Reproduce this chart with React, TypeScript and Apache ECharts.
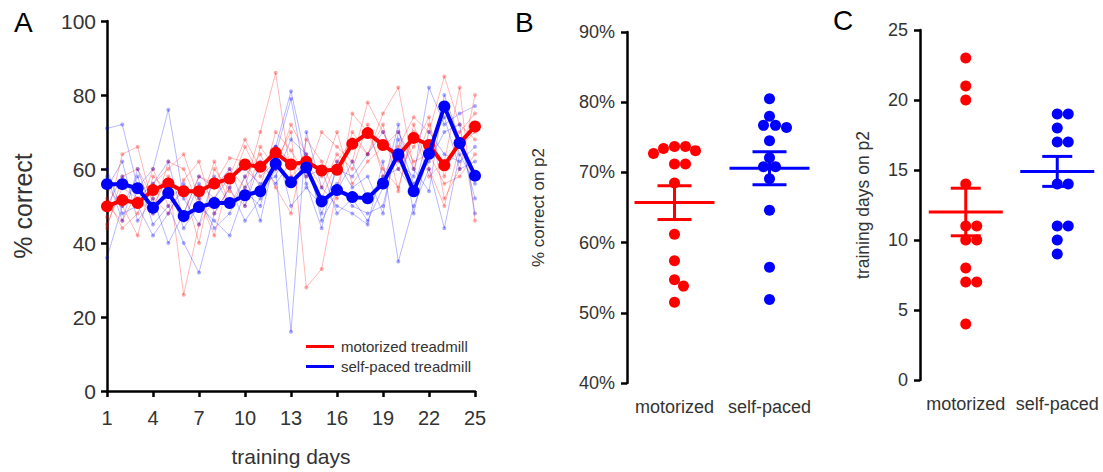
import React, { useEffect, useRef } from "react";
import * as echarts from "echarts";

const days = Array.from({ length: 25 }, (_, i) => String(i + 1));

const motorizedMean = [49.9, 51.6, 50.8, 54.3, 56.1, 54.0, 54.0, 56.1, 57.4, 61.2, 60.6, 64.4, 61.2, 62.0, 59.6, 59.8, 66.8, 69.7, 66.5, 63.6, 68.4, 66.5, 61.0, 67.0, 71.5];
const selfPacedMean = [55.9, 55.9, 54.8, 49.5, 53.5, 47.3, 49.7, 50.8, 50.8, 52.9, 54.0, 61.4, 56.4, 60.4, 51.3, 54.3, 52.4, 52.1, 56.1, 64.0, 54.0, 64.1, 76.9, 67.0, 58.2];

const motorizedAnimals = [
  [47, 64, 66, 50, 58, 26, 45, 52, 60, 55, 70, 86, 58, 62, 55, 64, 60, 72, 58, 66, 74, 70, 85, 72, 68],
  [52, 44, 48, 60, 50, 57, 62, 48, 55, 66, 58, 62, 70, 28, 33, 55, 70, 64, 75, 82, 60, 72, 58, 70, 75],
  [45, 55, 52, 48, 62, 60, 50, 62, 50, 58, 64, 55, 48, 68, 62, 52, 75, 70, 60, 55, 70, 58, 62, 82, 46],
  [55, 50, 42, 58, 54, 48, 58, 56, 63, 62, 55, 70, 65, 58, 70, 66, 62, 78, 70, 60, 66, 74, 52, 60, 80],
  [50, 46, 54, 56, 60, 64, 52, 42, 58, 68, 60, 66, 62, 60, 52, 62, 68, 64, 72, 54, 72, 60, 50, 66, 70],
  [44, 58, 60, 52, 48, 55, 40, 60, 54, 50, 66, 60, 72, 64, 58, 70, 56, 62, 66, 70, 62, 64, 56, 58, 64],
];
const selfPacedAnimals = [
  [71, 72, 55, 60, 76, 52, 45, 58, 50, 55, 60, 66, 81, 62, 48, 60, 58, 64, 70, 62, 58, 82, 72, 75, 77],
  [36, 50, 58, 45, 50, 40, 32, 48, 55, 46, 52, 60, 16, 70, 55, 50, 48, 45, 62, 35, 50, 60, 44, 64, 56],
  [60, 48, 50, 42, 48, 56, 52, 44, 48, 58, 46, 64, 79, 56, 44, 62, 55, 58, 48, 70, 60, 54, 80, 68, 52],
  [55, 62, 46, 52, 40, 48, 58, 55, 60, 50, 62, 56, 62, 58, 60, 48, 52, 46, 55, 72, 48, 66, 74, 60, 62],
  [58, 46, 60, 48, 56, 44, 50, 46, 42, 54, 50, 66, 50, 55, 50, 56, 50, 48, 50, 68, 56, 62, 70, 72, 48],
  [50, 58, 52, 56, 62, 46, 56, 52, 58, 60, 56, 58, 68, 64, 46, 54, 62, 52, 58, 60, 54, 70, 64, 62, 66],
];

const groups = ["motorized", "self-paced"];
const p2CorrectMotorized = [73.1, 73.7, 72.7, 73.7, 73.4, 71.2, 71.2, 68.5, 61.2, 57.4, 54.7, 53.8, 51.5];
const p2CorrectSelfPaced = [80.5, 78.0, 76.7, 76.7, 76.4, 74.5, 72.1, 70.8, 70.8, 69.1, 64.6, 56.5, 51.9];
const p2CorrectMean = [65.7, 70.6];
const p2CorrectSem = [2.4, 2.35];

const p2DaysMotorized = [23, 21, 20, 14, 11, 11, 10, 10, 8, 7, 7, 4];
const p2DaysSelfPaced = [19, 19, 18, 17, 17, 14, 14, 11, 11, 10, 9];
const p2DaysMean = [12.0, 14.9];
const p2DaysSem = [1.7, 1.07];

const RED = "#ff0000";
const BLUE = "#0000ff";
const FONT = "Liberation Sans, Arial, sans-serif";
const TXT = "#333";

function swarm(values: number[], pxPerUnit: number, d: number): number[] {
  const order = values.map((v, i) => i).sort((a, b) => values[b] - values[a]);
  const placed: { x: number; y: number }[] = [];
  const offs = new Array(values.length).fill(0);
  for (const i of order) {
    const y = values[i] * pxPerUnit;
    let best = 0;
    for (let k = 0; k < 200; k++) {
      const cand = k === 0 ? 0 : (k % 2 === 1 ? 1 : -1) * Math.ceil(k / 2);
      const ok = placed.every((p) => (p.x - cand) ** 2 + (p.y - y) ** 2 >= d * d);
      if (ok) { best = cand; break; }
    }
    placed.push({ x: best, y });
    offs[i] = best;
  }
  return offs;
}

function scatterData(values: number[], cat: number, pxPerUnit: number) {
  const offs = swarm(values, pxPerUnit, 10.5);
  return values.map((v, i) => ({ value: [cat, v], symbolOffset: [offs[i], 0] }));
}

function meanSemSeries(xIdx: number, yIdx: number, means: number[], sems: number[], half: number, cap: number) {
  return {
    type: "custom",
    xAxisIndex: xIdx,
    yAxisIndex: yIdx,
    z: 5,
    data: means.map((m, i) => [i, m, sems[i]]),
    renderItem: (params: any, api: any) => {
      const x = api.value(0);
      const m = api.value(1);
      const s = api.value(2);
      const c = api.coord([x, m]);
      const t = api.coord([x, m + s]);
      const b = api.coord([x, m - s]);
      const color = params.dataIndex === 0 ? RED : BLUE;
      const st = { stroke: color, lineWidth: 3 };
      return {
        type: "group",
        children: [
          { type: "line", shape: { x1: c[0] - half, y1: c[1], x2: c[0] + half, y2: c[1] }, style: st },
          { type: "line", shape: { x1: c[0], y1: t[1], x2: c[0], y2: b[1] }, style: st },
          { type: "line", shape: { x1: c[0] - cap, y1: t[1], x2: c[0] + cap, y2: t[1] }, style: st },
          { type: "line", shape: { x1: c[0] - cap, y1: b[1], x2: c[0] + cap, y2: b[1] }, style: st },
        ],
      };
    },
  };
}

export default function App() {
  const ref = useRef<HTMLDivElement>(null);
  useEffect(() => {
    if (!ref.current) return;
    const chart = echarts.init(ref.current, undefined, { renderer: "svg" });

    const axisLine = { show: true, lineStyle: { color: "#000", width: 2.5 } };
    const axisTick = { show: true, inside: false, length: 6, lineStyle: { color: "#000", width: 2.5 } };

    const thin = (arr: number[][], color: string, prefix: string) =>
      arr.map((d, i) => ({
        name: prefix + i,
        type: "line",
        xAxisIndex: 0,
        yAxisIndex: 0,
        data: d,
        symbol: "circle",
        symbolSize: 4,
        showAllSymbol: true,
        lineStyle: { color, width: 1, opacity: 0.28 },
        itemStyle: { color, opacity: 0.32 },
        z: 1,
      }));

    const scatterBase = { symbolSize: 11, z: 4 };

    const option: any = {
      animation: false,
      textStyle: { fontFamily: FONT },
      grid: [
        { left: 107, top: 21, width: 368, height: 377 },
        { left: 627, top: 32, width: 190, height: 351 },
        { left: 920, top: 30, width: 190, height: 350 },
      ],
      legend: {
        data: ["motorized treadmill", "self-paced treadmill"],
        orient: "vertical",
        left: 301,
        top: 334,
        itemWidth: 28,
        itemHeight: 3,
        itemGap: 5,
        icon: "rect",
        textStyle: { fontSize: 15, color: TXT, fontFamily: FONT, padding: [0, 0, 0, 2] },
      },
      xAxis: [
        {
          type: "category",
          gridIndex: 0,
          data: days,
          boundaryGap: false,
          axisLine,
          axisTick: { ...axisTick, interval: 2 },
          axisLabel: { interval: 2, fontSize: 20, color: TXT, margin: 17 },
          name: "training days",
          nameLocation: "middle",
          nameGap: 55,
          nameTextStyle: { fontSize: 21, color: TXT },
        },
        {
          type: "category",
          gridIndex: 1,
          data: groups,
          axisLine: { show: false },
          axisTick: { show: false },
          axisLabel: { interval: 0, fontSize: 18, color: TXT, margin: 15 },
        },
        {
          type: "category",
          gridIndex: 2,
          data: groups,
          axisLine: { show: false },
          axisTick: { show: false },
          axisLabel: { interval: 0, fontSize: 18, color: TXT, margin: 15 },
        },
      ],
      yAxis: [
        {
          type: "value",
          gridIndex: 0,
          min: 0,
          max: 100,
          interval: 20,
          axisLine,
          axisTick,
          splitLine: { show: false },
          axisLabel: { fontSize: 21, color: TXT, margin: 11 },
          name: "% correct",
          nameLocation: "middle",
          nameGap: 72,
          nameTextStyle: { fontSize: 25, color: TXT },
        },
        {
          type: "value",
          gridIndex: 1,
          min: 40,
          max: 90,
          interval: 10,
          axisLine,
          axisTick,
          splitLine: { show: false },
          axisLabel: { fontSize: 18, color: TXT, margin: 12, formatter: "{value}%" },
          name: "% correct on p2",
          nameLocation: "middle",
          nameGap: 80,
          nameTextStyle: { fontSize: 17, color: TXT },
        },
        {
          type: "value",
          gridIndex: 2,
          min: 0,
          max: 25,
          interval: 5,
          axisLine,
          axisTick,
          splitLine: { show: false },
          axisLabel: { fontSize: 18, color: TXT, margin: 12 },
          name: "training days on p2",
          nameLocation: "middle",
          nameGap: 48,
          nameTextStyle: { fontSize: 17.5, color: TXT },
        },
      ],
      graphic: [
        { type: "text", left: 14, top: 8, style: { text: "A", fontSize: 28, fill: "#000", fontFamily: FONT } },
        { type: "text", left: 515, top: 8, style: { text: "B", fontSize: 28, fill: "#000", fontFamily: FONT } },
        { type: "text", left: 833, top: 6, style: { text: "C", fontSize: 28, fill: "#000", fontFamily: FONT } },
      ],
      series: [
        ...thin(motorizedAnimals, RED, "m"),
        ...thin(selfPacedAnimals, BLUE, "s"),
        {
          name: "motorized treadmill",
          type: "line",
          xAxisIndex: 0,
          yAxisIndex: 0,
          data: motorizedMean,
          symbol: "circle",
          symbolSize: 12,
          showAllSymbol: true,
          lineStyle: { color: RED, width: 4 },
          itemStyle: { color: RED },
          z: 3,
        },
        {
          name: "self-paced treadmill",
          type: "line",
          xAxisIndex: 0,
          yAxisIndex: 0,
          data: selfPacedMean,
          symbol: "circle",
          symbolSize: 12,
          showAllSymbol: true,
          lineStyle: { color: BLUE, width: 4 },
          itemStyle: { color: BLUE },
          z: 4,
        },
        {
          ...scatterBase,
          type: "scatter",
          xAxisIndex: 1,
          yAxisIndex: 1,
          itemStyle: { color: RED, opacity: 1 },
          data: scatterData(p2CorrectMotorized, 0, 351 / 50),
        },
        {
          ...scatterBase,
          type: "scatter",
          xAxisIndex: 1,
          yAxisIndex: 1,
          itemStyle: { color: BLUE, opacity: 1 },
          data: scatterData(p2CorrectSelfPaced, 1, 351 / 50),
        },
        meanSemSeries(1, 1, p2CorrectMean, p2CorrectSem, 40, 17),
        {
          ...scatterBase,
          type: "scatter",
          xAxisIndex: 2,
          yAxisIndex: 2,
          itemStyle: { color: RED, opacity: 1 },
          data: scatterData(p2DaysMotorized, 0, 350 / 25),
        },
        {
          ...scatterBase,
          type: "scatter",
          xAxisIndex: 2,
          yAxisIndex: 2,
          itemStyle: { color: BLUE, opacity: 1 },
          data: scatterData(p2DaysSelfPaced, 1, 350 / 25),
        },
        meanSemSeries(2, 2, p2DaysMean, p2DaysSem, 37, 15),
      ],
    };
    chart.setOption(option);
    return () => chart.dispose();
  }, []);
  return (
    <div
      ref={ref}
      style={{ position: "absolute", left: 0, top: 0, width: 1103, height: 472 }}
    />
  );
}
